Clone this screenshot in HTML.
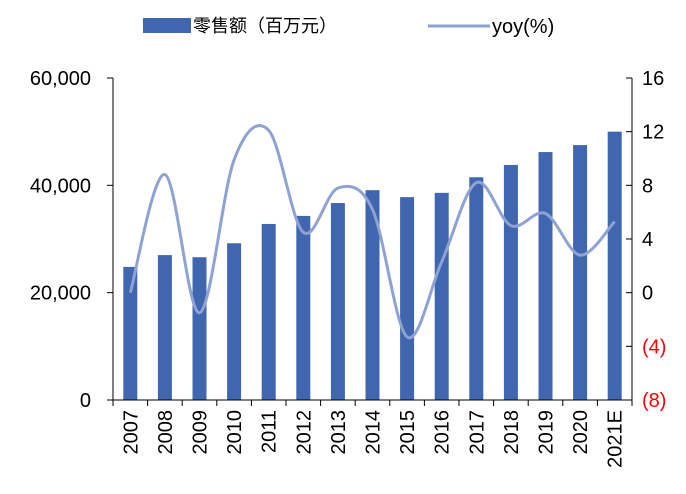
<!DOCTYPE html>
<html><head><meta charset="utf-8"><style>
body{margin:0;background:#fff;}
svg text{font-family:"Liberation Sans","Noto Sans CJK SC",sans-serif;}
</style></head><body>
<svg id="chart" width="686" height="489">
<g>
<rect x="143" y="18" width="48" height="15" fill="#4066B0"/>
<text x="193" y="32" font-size="18" font-family="Noto Serif CJK SC, serif">零售额（百万元）</text>
<line x1="428" y1="26" x2="490" y2="26" stroke="#8FA2D4" stroke-width="3"/>
<text x="492" y="33" font-size="20">yoy(%)</text>
</g>
<g id="plot"></g>
</svg>
<script>
const categories=["2007","2008","2009","2010","2011","2012","2013","2014","2015","2016","2017","2018","2019","2020","2021E"];
const sales=[24800,27000,26600,29200,32800,34300,36700,39100,37800,38600,41500,43800,46200,47500,50000];
const yoy=[0,8.8,-1.5,9.9,12.1,4.5,7.8,6.2,-3.3,2.3,8.2,5.0,5.9,2.8,5.3];
const leftTicks=[0,20000,40000,60000];
const leftTickLabels=["0","20,000","40,000","60,000"];
const rightTicks=[-8,-4,0,4,8,12,16];
const rightTickLabels=["(8)","(4)","0","4","8","12","16"];

const NS="http://www.w3.org/2000/svg";
const g=document.getElementById('plot');
const X0=113,X1=632,Y0=400,Y1=78;
const bw=(X1-X0)/categories.length;
const xc=i=>X0+bw*(i+0.5);
const yL=v=>Y0-(v/60000)*(Y0-Y1);
const yR=v=>Y0-((v+8)/24)*(Y0-Y1);
function mk(t,a,txt){const e=document.createElementNS(NS,t);for(const k in a)e.setAttribute(k,a[k]);if(txt!==undefined)e.textContent=txt;g.appendChild(e);return e;}

sales.forEach((v,i)=>{
 const r=mk('rect',{x:xc(i)-7,y:yL(v),width:14,height:Y0-yL(v),fill:'#4066B0'});
 
 
});
const pts=yoy.map((v,i)=>[xc(i),yR(v)]);
let d='M'+pts[0][0]+','+pts[0][1];
for(let i=0;i<pts.length-1;i++){
 const p0=pts[Math.max(0,i-1)],p1=pts[i],p2=pts[i+1],p3=pts[Math.min(pts.length-1,i+2)];
 const c1=[p1[0]+(p2[0]-p0[0])/6,p1[1]+(p2[1]-p0[1])/6];
 const c2=[p2[0]-(p3[0]-p1[0])/6,p2[1]-(p3[1]-p1[1])/6];
 d+=' C'+c1+' '+c2+' '+p2;
}
const ln=mk('path',{d:d,fill:'none',stroke:'#8FA2D4','stroke-width':3});



const la=mk('line',{x1:X0,y1:Y1,x2:X0,y2:Y0,stroke:'#000'});


const ra=mk('line',{x1:X1,y1:Y1,x2:X1,y2:Y0,stroke:'#000'});


const xa=mk('line',{x1:X0-6,y1:Y0,x2:X1,y2:Y0,stroke:'#000'});


leftTicks.forEach((v,i)=>{
 mk('line',{x1:X0-6,y1:yL(v),x2:X0,y2:yL(v),stroke:'#000'});
 const t=mk('text',{x:X0-22,y:yL(v)+7,'font-size':20,'text-anchor':'end'},leftTickLabels[i]);
 
 
});
rightTicks.forEach((v,i)=>{
 mk('line',{x1:X1-6,y1:yR(v),x2:X1,y2:yR(v),stroke:'#000'});
 const t=mk('text',{x:X1+10,y:yR(v)+7,'font-size':20,fill:v<0?'#FF0000':'#000'},rightTickLabels[i]);
 
 
});
for(let i=0;i<=categories.length;i++) mk('line',{x1:X0+bw*i,y1:Y0,x2:X0+bw*i,y2:Y0+6,stroke:'#000'});
categories.forEach((c,i)=>{
 const x=xc(i)+7;
 const t=mk('text',{x:x,y:Y0+10,'font-size':20,'text-anchor':'end',transform:`rotate(-90 ${x} ${Y0+10})`},c);
 
 
});
</script>
</body></html>
